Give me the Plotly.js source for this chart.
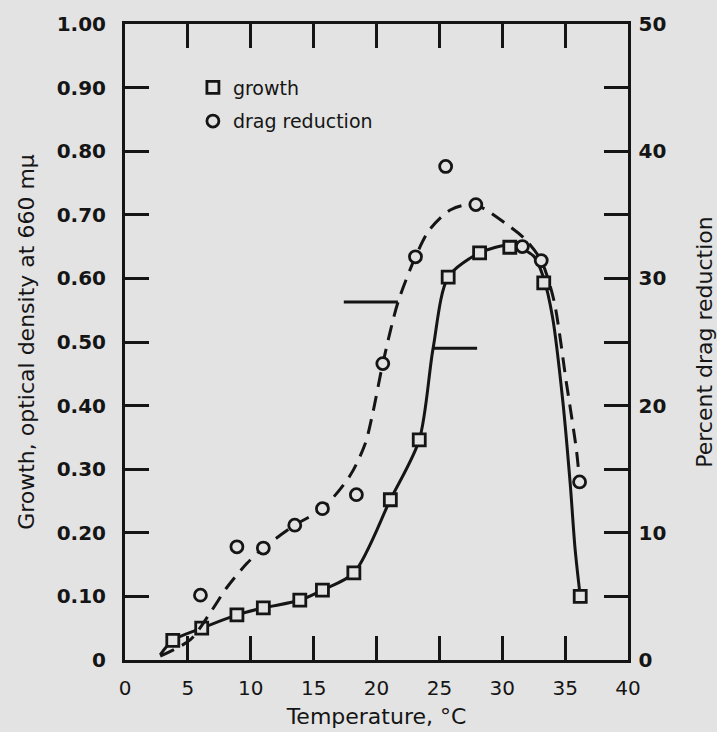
<!DOCTYPE html>
<html>
<head>
<meta charset="utf-8">
<script src="https://cdn.plot.ly/plotly-3.0.1.min.js"></script>
<style>
  html, body { margin: 0; padding: 0; background: #e3e3e3; }
  #chart { width: 717px; height: 732px; }
</style>
</head>
<body>
<div id="chart"></div>
<script>
// ---- data ----
// growth (left axis, optical density at 660 mμ), square markers
const growthTemp = [3.8, 6.1, 8.9, 11.0, 13.9, 15.7, 18.2, 21.1, 23.4, 25.7, 28.2, 30.6, 33.3, 36.2];
const growthOD   = [0.031, 0.050, 0.071, 0.082, 0.094, 0.110, 0.137, 0.252, 0.346, 0.602, 0.640, 0.649, 0.593, 0.100];

// drag reduction (right axis, percent), circle markers
const dragTemp = [6.0, 8.9, 11.0, 13.5, 15.7, 18.4, 20.5, 23.1, 25.5, 27.9, 31.6, 33.1, 36.15];
const dragPct  = [5.1, 8.9, 8.8, 10.6, 11.9, 13.0, 23.3, 31.7, 38.8, 35.8, 32.5, 31.4, 14.0];

// hand-drawn fitted curves
const growthCurveTemp = [2.8, 3.8, 6.1, 8.9, 11.0, 13.9, 15.7, 18.2, 21.1, 23.4, 24.5, 25.7, 28.2, 30.6, 32.5, 33.3, 34.0, 34.8, 35.4, 35.8, 36.2];
const growthCurveOD   = [0.008, 0.031, 0.050, 0.071, 0.082, 0.094, 0.110, 0.137, 0.252, 0.346, 0.49, 0.602, 0.640, 0.652, 0.635, 0.600, 0.539, 0.41, 0.278, 0.173, 0.100];

const dragCurveTemp = [2.8, 5.2, 6.9, 8.1, 9.7, 11.0, 13.5, 15.7, 17.9, 19.1, 19.7, 20.5, 21.7, 23.1, 24.2, 25.9, 27.8, 30.7, 31.9, 33.1, 34.1, 35.1, 35.9, 36.15];
const dragCurvePct  = [0.3, 1.6, 3.9, 5.7, 7.6, 8.8, 10.6, 11.9, 14.5, 17.0, 19.4, 23.3, 28.1, 31.7, 33.8, 35.4, 35.8, 34.0, 33.0, 31.4, 28.3, 21.8, 16.5, 14.0];

// axis indicator arrows (left axis units)
const leftArrowTemp  = [17.4, 21.7];
const leftArrowOD    = [0.563, 0.563];
const rightArrowTemp = [24.5, 28.0];
const rightArrowOD   = [0.49, 0.49];

// tick labels
const xTicks = [0, 5, 10, 15, 20, 25, 30, 35, 40];
const yTicks = [0, 0.1, 0.2, 0.3, 0.4, 0.5, 0.6, 0.7, 0.8, 0.9, 1.0];
const yTickText = ['0', '0.10', '0.20', '0.30', '0.40', '0.50', '0.60', '0.70', '0.80', '0.90', '1.00'];
const y2Ticks = [0, 5, 10, 15, 20, 25, 30, 35, 40, 45, 50];
const y2TickText = ['0', '', '10', '', '20', '', '30', '', '40', '', '50'];

// ---- drawing ----
const ink = '#151515';
const bg = '#e3e3e3';
const font = 'DejaVu Sans, Arial, sans-serif';

const traces = [
  { x: growthCurveTemp, y: growthCurveOD, mode: 'lines', yaxis: 'y',
    line: { color: ink, width: 3, shape: 'spline', smoothing: 0.8 },
    showlegend: false, hoverinfo: 'skip' },
  { x: dragCurveTemp, y: dragCurvePct, mode: 'lines', yaxis: 'y2',
    line: { color: ink, width: 3, shape: 'spline', smoothing: 0.8, dash: '15px,9px' },
    showlegend: false, hoverinfo: 'skip' },
  { x: leftArrowTemp, y: leftArrowOD, mode: 'lines', yaxis: 'y',
    line: { color: ink, width: 3 }, showlegend: false, hoverinfo: 'skip' },
  { x: rightArrowTemp, y: rightArrowOD, mode: 'lines', yaxis: 'y',
    line: { color: ink, width: 3 }, showlegend: false, hoverinfo: 'skip' },
  { x: growthTemp, y: growthOD, mode: 'markers', yaxis: 'y', name: 'growth',
    legendgroup: 'g1',
    marker: { symbol: 'square', size: 12, color: bg, line: { color: ink, width: 2.8 } } },
  { x: dragTemp, y: dragPct, mode: 'markers', yaxis: 'y2', name: 'drag reduction',
    legendgroup: 'g2',
    marker: { symbol: 'circle', size: 12, color: bg, line: { color: ink, width: 2.8 } } }
];

const layout = {
  width: 717, height: 732,
  paper_bgcolor: bg, plot_bgcolor: bg,
  margin: { l: 125, r: 89, t: 24, b: 72, pad: 0 },
  font: { family: font, color: ink, size: 20 },
  showlegend: true,
  legend: {
    x: 0.135, y: 0.93, xanchor: 'left', yanchor: 'top',
    bgcolor: 'rgba(0,0,0,0)', borderwidth: 0,
    traceorder: 'grouped', tracegroupgap: 6,
    font: { family: font, size: 19, color: ink }
  },
  xaxis: {
    range: [0, 40], tickmode: 'array', tickvals: xTicks,
    ticks: 'inside', ticklen: 24, tickwidth: 3, tickcolor: ink,
    showline: true, linewidth: 3, linecolor: ink, mirror: 'ticks',
    showgrid: false, zeroline: false, automargin: false,
    ticklabelstandoff: 8,
    tickfont: { family: font, size: 20, color: ink },
    title: { text: 'Temperature, °C', font: { family: font, size: 22, color: ink }, standoff: 10 }
  },
  yaxis: {
    range: [0, 1], tickmode: 'array', tickvals: yTicks, ticktext: yTickText,
    ticks: 'inside', ticklen: 24, tickwidth: 3, tickcolor: ink,
    showline: true, linewidth: 3, linecolor: ink, mirror: false,
    showgrid: false, zeroline: false, automargin: false,
    ticklabelstandoff: 12,
    tickfont: { family: font, size: 20, color: ink, weight: 'bold' },
    title: { text: 'Growth, optical density at 660 mμ', font: { family: font, size: 22, color: ink }, standoff: 16 }
  },
  yaxis2: {
    range: [0, 50], overlaying: 'y', side: 'right',
    tickmode: 'array', tickvals: y2Ticks, ticktext: y2TickText,
    ticks: 'inside', ticklen: 24, tickwidth: 3, tickcolor: ink,
    showline: true, linewidth: 2.5, linecolor: ink,
    showgrid: false, zeroline: false, automargin: false,
    ticklabelstandoff: 4,
    tickfont: { family: font, size: 20, color: ink, weight: 'bold' },
    title: { text: 'Percent drag reduction', font: { family: font, size: 22, color: ink }, standoff: 32 }
  }
};

Plotly.newPlot('chart', traces, layout, { staticPlot: true, displayModeBar: false });
</script>
</body>
</html>
